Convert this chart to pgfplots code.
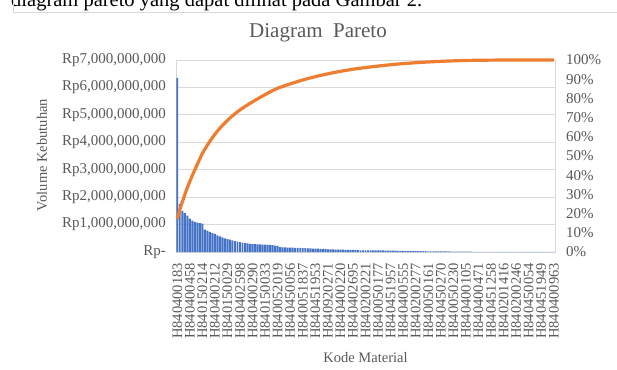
\documentclass[border=0pt]{standalone}
\usepackage{pgfplots}
\pgfplotsset{compat=1.18}
\usepackage{pgfplotstable}
\usepackage{fontspec}
\setmainfont{Liberation Serif}

\definecolor{barblue}{HTML}{4472C4}
\definecolor{lineorange}{HTML}{ED7D31}
\definecolor{labelgray}{HTML}{595959}
\definecolor{gridgray}{HTML}{D9D9D9}

% idx: material rank, vol: requirement volume (billion Rp), cum: cumulative share (%)
\pgfplotstableread{
idx vol cum
0 6.35 17.20
1 1.75 21.93
2 1.50 26.00
3 1.42 29.84
4 1.33 33.44
5 1.22 36.75
6 1.14 39.83
7 1.10 42.81
8 1.07 45.71
9 1.05 48.55
10 1.03 51.34
11 0.82 53.56
12 0.78 55.68
13 0.73 57.65
14 0.69 59.52
15 0.66 61.31
16 0.61 62.96
17 0.57 64.50
18 0.53 65.94
19 0.50 67.29
20 0.47 68.57
21 0.45 69.79
22 0.42 70.92
23 0.40 72.01
24 0.38 73.03
25 0.36 74.01
26 0.33 74.90
27 0.32 75.77
28 0.31 76.61
29 0.30 77.42
30 0.29 78.21
31 0.29 78.99
32 0.28 79.75
33 0.28 80.51
34 0.27 81.24
35 0.27 81.97
36 0.26 82.68
37 0.26 83.38
38 0.25 84.06
39 0.23 84.68
40 0.22 85.28
41 0.18 85.76
42 0.17 86.22
43 0.17 86.68
44 0.16 87.12
45 0.16 87.55
46 0.16 87.98
47 0.15 88.39
48 0.15 88.80
49 0.15 89.20
50 0.14 89.58
51 0.14 89.96
52 0.13 90.31
53 0.13 90.66
54 0.12 90.99
55 0.12 91.31
56 0.12 91.64
57 0.11 91.94
58 0.11 92.23
59 0.11 92.53
60 0.10 92.80
61 0.10 93.07
62 0.10 93.34
63 0.09 93.59
64 0.09 93.83
65 0.09 94.08
66 0.09 94.32
67 0.08 94.54
68 0.08 94.75
69 0.08 94.97
70 0.08 95.19
71 0.07 95.38
72 0.07 95.57
73 0.06 95.73
74 0.06 95.89
75 0.06 96.05
76 0.06 96.22
77 0.06 96.38
78 0.055 96.53
79 0.055 96.68
80 0.055 96.82
81 0.055 96.97
82 0.055 97.12
83 0.05 97.26
84 0.05 97.39
85 0.05 97.53
86 0.05 97.66
87 0.05 97.80
88 0.040 97.91
89 0.040 98.02
90 0.038 98.12
91 0.036 98.22
92 0.035 98.31
93 0.034 98.40
94 0.033 98.49
95 0.032 98.58
96 0.031 98.66
97 0.030 98.74
98 0.029 98.82
99 0.028 98.90
100 0.027 98.97
101 0.026 99.04
102 0.025 99.11
103 0.024 99.18
104 0.023 99.24
105 0.022 99.30
106 0.021 99.35
107 0.020 99.41
108 0.019 99.46
109 0.018 99.51
110 0.017 99.55
111 0.016 99.60
112 0.015 99.64
113 0.014 99.68
114 0.013 99.71
115 0.012 99.74
116 0.011 99.77
117 0.010 99.80
118 0.009 99.83
119 0.008 99.85
120 0.007 99.87
121 0.006 99.88
122 0.005 99.90
123 0.005 99.91
124 0.004 99.92
125 0.004 99.93
126 0.003 99.94
127 0.003 99.95
128 0.002 99.95
129 0.002 99.96
130 0.002 99.96
131 0.0015 99.97
132 0.0015 99.97
133 0.0012 99.97
134 0.001 99.98
135 0.001 99.98
136 0.0009 99.98
137 0.0008 99.98
138 0.0008 99.99
139 0.0007 99.99
140 0.0006 99.99
141 0.0006 99.99
142 0.0005 99.99
143 0.0005 100.00
144 0.0004 100.00
145 0.0004 100.00
146 0.0003 100.00
147 0.0003 100.00
148 0.0002 100.00
149 0.0002 100.00
150 0.0001 100.00
}\paretodata

\begin{document}
\begin{tikzpicture}
\path[use as bounding box] (0pt,0pt) rectangle (617pt,369pt);
\clip (0pt,0pt) rectangle (617pt,369pt);

% running text above the figure
\node[anchor=base west, inner sep=0pt, font=\fontsize{20.5}{24}\selectfont]
  at (11pt,362.5pt) {diagram pareto yang dapat dilihat pada Gambar 2.};

% chart frame
\draw[gridgray, line width=0.8pt] (13.5pt,370pt) -- (13.5pt,357pt) -- (620pt,357pt);

% volume bars
\begin{axis}[
  at={(176pt,117pt)}, anchor=south west,
  scale only axis, width=379pt, height=192pt,
  xmin=-0.5, xmax=150.5, ymin=0, ymax=7,
  axis line style={draw=gridgray, line width=0.8pt},
  ymajorgrids, grid style={gridgray, line width=0.8pt},
  major tick length=0pt,
  ytick={0,1,...,7},
  yticklabels={Rp-, {Rp1,000,000,000}, {Rp2,000,000,000}, {Rp3,000,000,000},
    {Rp4,000,000,000}, {Rp5,000,000,000}, {Rp6,000,000,000}, {Rp7,000,000,000}},
  xtick={0,5,...,150},
  xticklabels={H840400183, H840400458, H840150214, H840400212, H840150029,
    H840402598, H840400290, H840150033, H840052019, H840450056, H840051837,
    H840451953, H840920271, H840400220, H840402695, H840200221, H840050177,
    H840451957, H840400555, H840200277, H840050161, H840450270, H840050230,
    H840400105, H840400471, H840451258, H840201416, H840200246, H840450054,
    H840451949, H840400963},
  tick label style={text=labelgray, inner sep=0pt},
  yticklabel style={font=\fontsize{15}{18}\selectfont, anchor=east, xshift=-10pt},
  xticklabel style={font=\fontsize{14.5}{17}\selectfont, yshift=-11pt, rotate=90, anchor=east},
]
\addplot[ybar, bar width=0.78, fill=barblue, draw=none] table[x=idx, y=vol] {\paretodata};
\end{axis}

% cumulative percentage
\begin{axis}[
  at={(176pt,117pt)}, anchor=south west,
  scale only axis, width=379pt, height=192pt,
  xmin=-0.5, xmax=150.5, ymin=0, ymax=100,
  axis x line=none, axis y line*=right,
  axis line style={draw=gridgray, line width=0.8pt},
  major tick length=0pt,
  ytick={0,10,...,100},
  yticklabels={0\%,10\%,20\%,30\%,40\%,50\%,60\%,70\%,80\%,90\%,100\%},
  yticklabel style={font=\fontsize{15}{18}\selectfont, text=labelgray,
    inner sep=0pt, anchor=west, xshift=11pt},
  clip=false,
]
\addplot[lineorange, line width=3.2pt, line join=round] table[x=idx, y=cum] {\paretodata};
\end{axis}

\node[font=\fontsize{21}{25}\selectfont, text=labelgray] at (318pt,336pt) {Diagram\ \ Pareto};
\node[rotate=90, font=\fontsize{14.5}{17}\selectfont, text=labelgray] at (42pt,214pt) {Volume Kebutuhan};
\node[font=\fontsize{14.5}{17}\selectfont, text=labelgray] at (365.5pt,11pt) {Kode Material};
\end{tikzpicture}
\end{document}
